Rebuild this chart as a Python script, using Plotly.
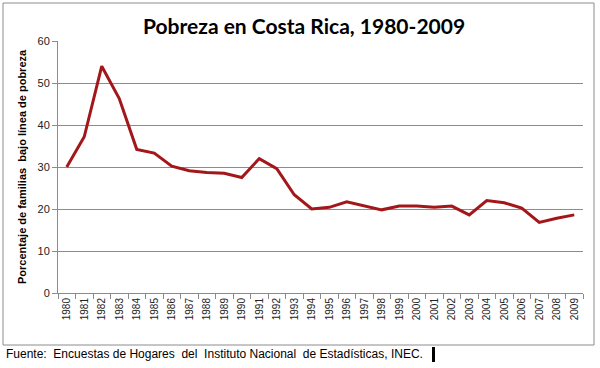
import plotly.graph_objects as go

years = [str(y) for y in range(1980, 2010)]
pobreza = [30.0, 37.2, 54.0, 46.3, 34.2, 33.3, 30.2, 29.1, 28.7, 28.5,
           27.5, 32.0, 29.6, 23.4, 20.0, 20.4, 21.7, 20.8, 19.8, 20.7,
           20.7, 20.4, 20.7, 18.6, 22.0, 21.5, 20.2, 16.8, 17.8, 18.6]
y_ticks = [0, 10, 20, 30, 40, 50, 60]

title_text = "Pobreza en Costa Rica, 1980-2009"
y_title = "Porcentaje de familias  bajo línea de pobreza"
source_text = "Fuente:  Encuestas de Hogares  del  Instituto Nacional  de Estadísticas, INEC."

L, R, T, B = 58, 17, 41, 75
W, H = 600, 368
pw, ph = W - L - R, H - T - B

def px(x):
    return (x - L) / pw

def py(y):
    return (H - B - y) / ph

fig = go.Figure()
fig.add_trace(go.Scatter(
    x=years, y=pobreza, mode="lines",
    line=dict(color="#A3171B", width=3),
    hoverinfo="x+y",
))

fig.update_layout(
    width=W, height=H,
    margin=dict(l=L, r=R, t=T, b=B),
    paper_bgcolor="white", plot_bgcolor="white",
    showlegend=False,
    font=dict(family="Liberation Sans, Arial, sans-serif", color="#222"),
    xaxis=dict(
        type="category", range=[-0.5, 29.5],
        tickangle=-90, tickfont=dict(size=10, color="#222"),
        showgrid=False, showline=True, linecolor="#8c8c8c", linewidth=1,
        ticks="outside", ticklen=5, tickcolor="#8c8c8c", tickson="boundaries",
    ),
    yaxis=dict(
        range=[0, 60], tickvals=y_ticks,
        tickfont=dict(size=11, color="#222"),
        showgrid=True, gridcolor="#8c8c8c", gridwidth=1,
        showline=True, linecolor="#8c8c8c", linewidth=1,
        ticks="outside", ticklen=5, tickcolor="#8c8c8c",
        zeroline=False,
    ),
    shapes=[
        dict(type="rect", xref="paper", yref="paper",
             x0=px(3), x1=px(594), y0=py(345), y1=py(3),
             line=dict(color="#8c8c8c", width=1), fillcolor="rgba(0,0,0,0)", layer="below"),
        dict(type="rect", xref="paper", yref="paper",
             x0=px(432), x1=px(435), y0=py(362), y1=py(347),
             line=dict(width=0), fillcolor="black"),
    ],
    annotations=[
        dict(text="<b>" + title_text + "</b>", xref="paper", yref="paper", x=px(304), y=py(26),
             xanchor="center", yanchor="middle", showarrow=False,
             font=dict(family="Lato, Open Sans, sans-serif", size=21, color="black")),
        dict(text="<b>" + y_title + "</b>", xref="paper", yref="paper", x=px(22), y=py(167),
             xanchor="center", yanchor="middle", showarrow=False, textangle=-90,
             font=dict(size=11, color="black")),
        dict(text=source_text, xref="paper", yref="paper", x=px(4), y=py(354),
             xanchor="left", yanchor="middle", showarrow=False,
             font=dict(size=12, color="black")),
    ],
)

fig.write_html("out.html", config={"displayModeBar": False},
               post_script="document.body.style.margin='0';")
